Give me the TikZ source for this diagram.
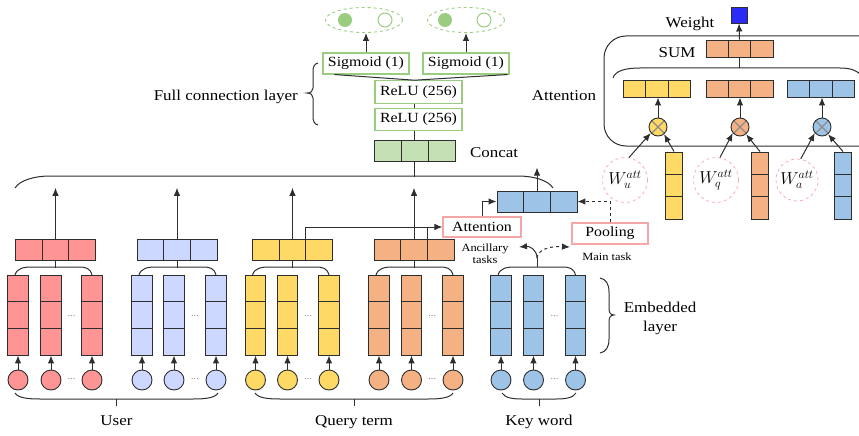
\documentclass[tikz,border=0pt]{standalone}
\usepackage{fontspec}
\setmainfont{Liberation Serif}[FakeStretch=1.13]
\usetikzlibrary{arrows.meta,calc,shapes.geometric}
\definecolor{cred}{HTML}{FF9494}
\definecolor{clav}{HTML}{CCD8FF}
\definecolor{cyel}{HTML}{FFD966}
\definecolor{cora}{HTML}{F4B183}
\definecolor{cblu}{HTML}{9DC3E6}
\definecolor{cgrn}{HTML}{C5E0B4}
\definecolor{cgbd}{HTML}{9ACD80}
\definecolor{cpnk}{HTML}{F4A7A7}
\definecolor{cdeep}{HTML}{2B2BF5}
\definecolor{cedge}{HTML}{2E2E2E}
\tikzset{
  ln/.style={line width=1pt, draw=cedge},
  arr/.style={ln, -{Latex[length=8pt,width=6.5pt]}},
  vcol/.style={draw=cedge, line width=0.9pt, fill=#1, minimum width=20.5pt, minimum height=80pt, inner sep=0pt,
    path picture={\foreach \t in {0.3333,0.6667}{\draw[cedge,line width=0.9pt] ($(path picture bounding box.north west)!\t!(path picture bounding box.south west)$) -- ($(path picture bounding box.north east)!\t!(path picture bounding box.south east)$);}}},
  hbar/.style={draw=cedge, line width=0.9pt, fill=#1, minimum width=80pt, minimum height=20.5pt, inner sep=0pt,
    path picture={\foreach \t in {0.3333,0.6667}{\draw[cedge,line width=0.9pt] ($(path picture bounding box.north west)!\t!(path picture bounding box.north east)$) -- ($(path picture bounding box.south west)!\t!(path picture bounding box.south east)$);}}},
  inp/.style={circle, draw=cedge, line width=0.9pt, fill=#1, minimum size=20pt, inner sep=0pt},
  gbox/.style={draw=cgbd, line width=1.1pt, fill=white, inner sep=0pt, font=\fontsize{14}{16}\selectfont},
  pbox/.style={draw=cpnk, line width=1.1pt, fill=white, inner sep=0pt, font=\fontsize{14}{16}\selectfont},
  lbl/.style={font=\fontsize{15}{17}\selectfont, inner sep=0pt, anchor=base},
  slbl/.style={font=\fontsize{11}{12}\selectfont, inner sep=0pt, anchor=base},
  wcirc/.style={circle, draw=cpnk, dashed, line width=0.7pt, minimum size=45pt, inner sep=0pt, font=\fontsize{17}{19}\selectfont},
  otim/.style={circle, draw=cedge, line width=0.9pt, fill=#1, minimum size=18pt, inner sep=0pt,
    path picture={\draw[black!45, line width=1.3pt] (path picture bounding box.north west) -- (path picture bounding box.south east) (path picture bounding box.north east) -- (path picture bounding box.south west);}},
  dotsn/.style={text=black!55, font=\fontsize{9}{9}\selectfont, inner sep=0pt},
}
\begin{document}
\begin{tikzpicture}[x=1pt,y=-1pt]
\useasboundingbox (0,0) rectangle (859,436);
\clip (0,0) rectangle (859,436);

% ---------- embedding columns and inputs ----------
\foreach \gp/\cc/\xa/\xb/\xc in {r/cred/18/51/92, l/clav/142/174/216, y/cyel/255.5/287.5/329, o/cora/379/411.5/453, k/cblu/501/533.5/575.5}{
  \node[vcol=\cc] (\gp c1) at (\xa,315) {};
  \node[vcol=\cc] (\gp c2) at (\xb,315) {};
  \node[vcol=\cc] (\gp c3) at (\xc,315) {};
  \node[inp=\cc] (\gp i1) at (\xa,380) {};
  \node[inp=\cc] (\gp i2) at (\xb,380) {};
  \node[inp=\cc] (\gp i3) at (\xc,380) {};
  \draw[arr] (\gp i1) -- (\gp c1);
  \draw[arr] (\gp i2) -- (\gp c2);
  \draw[arr] (\gp i3) -- (\gp c3);
  \node[dotsn] (\gp d1) at ({(\xb+\xc)/2},316) {...};
  \node[dotsn] (\gp d2) at ({(\xb+\xc)/2},379) {...};
  \draw[ln] ({\xa-3},275) .. controls ({\xa-1},268) and ({\xa+6},267) .. ({\xa+14},267) -- ({\xc-14},267) .. controls ({\xc-6},267) and ({\xc-2},268) .. (\xc,275);
}

% ---------- pooled bars ----------
\node[hbar=cred] (rbar) at (55.5,250) {};
\node[hbar=clav] (lbar) at (177,250) {};
\node[hbar=cyel] (ybar) at (292.5,250) {};
\node[hbar=cora] (obar) at (414,250) {};
\foreach \b in {rbar,lbar,ybar,obar}{
  \draw[ln] (\b.south) -- ++(0,7);
  \draw[arr] (\b.north) -- ++(0,-51.5);
}

% ---------- big brace and concat ----------
\draw[ln] (15,188) .. controls (20,180) and (35,176) .. (50,176) -- (518,176) .. controls (533,176) and (548,180) .. (553,188);
\node[hbar=cgrn, minimum width=81pt] (cat) at (414.5,151) {};
\draw[ln] (cat.south) -- ++(0,15);
\node[lbl] (catl) at (494,157) {Concat};

% ---------- full connection layers ----------
\node[gbox, minimum width=87pt, minimum height=22.5pt] (relu1) at (418.5,119.5) {ReLU (256)};
\node[gbox, minimum width=87pt, minimum height=22.5pt] (relu2) at (418.5,92) {ReLU (256)};
\draw[ln] (cat.north) -- (cat.north |- relu1.south);
\draw[ln] (cat.north |- relu1.north) -- (cat.north |- relu2.south);
\node[gbox, minimum width=86pt, minimum height=21pt] (sg1) at (366,63.5) {Sigmoid (1)};
\node[gbox, minimum width=86pt, minimum height=21pt] (sg2) at (466,63.5) {Sigmoid (1)};
\coordinate (vj) at (cat.north |- relu2.north);
\draw[ln] ($(sg1.south west)+(12,0)$) -- (vj) -- ($(sg2.south east)+(-2,0)$);

\node[ellipse, draw=cgbd, dashed, line width=0.9pt, minimum width=77pt, minimum height=25pt, inner sep=0pt] (el1) at (364,20) {};
\node[ellipse, draw=cgbd, dashed, line width=0.9pt, minimum width=77pt, minimum height=25pt, inner sep=0pt] (el2) at (466,20) {};
\node[circle, fill=cgbd, minimum size=14pt, inner sep=0pt] (el1a) at (345,20) {};
\node[circle, draw=cgbd, line width=1pt, minimum size=14pt, inner sep=0pt] (el1b) at (385,20) {};
\node[circle, fill=cgbd, minimum size=14pt, inner sep=0pt] (el2a) at (445,20) {};
\node[circle, draw=cgbd, line width=1pt, minimum size=14pt, inner sep=0pt] (el2b) at (484,20) {};
\draw[arr] (sg1.north) -- (sg1.north |- el1.south) ;
\draw[arr] (sg2.north) -- (sg2.north |- el2.south);

\draw[ln] (318,63) .. controls (314,64) and (313,67) .. (313,72) -- (313,88) .. controls (313,91) and (311,93) .. (307,93) .. controls (311,93) and (313,95) .. (313,98) -- (313,116) .. controls (313,121) and (314,124) .. (318,125);
\node[lbl, anchor=base east] (fcl) at (298,100) {Full connection layer};

% ---------- keyword attention / pooling ----------
\node[hbar=cblu, minimum width=80pt, minimum height=21pt] (kbar) at (537,201.5) {};
\draw[arr] (kbar.north) -- ++(0,-23);
\node[pbox, minimum width=78pt, minimum height=20pt] (att) at (482,227) {Attention};
\node[pbox, minimum width=76pt, minimum height=21pt] (pool) at (610,233.5) {Pooling};
\coordinate (ya) at ($(ybar.north west)!0.6667!(ybar.north east)$);
\coordinate (oa) at ($(obar.north west)!0.6667!(obar.north east)$);
\draw[arr] (ya) |- (att.west);
\draw[ln] (oa) -- (oa |- att.west);
\draw[arr] (att.north) |- (kbar.west);
\draw[arr, dashed] (pool.north) |- (kbar.east);

\coordinate (kj) at (537,258);
\draw[ln] (537,267) -- (kj);
\draw[arr] (kj) .. controls (537,250) and (530,246) .. (519,247);
\draw[arr, dashed] (kj) .. controls (538,250) and (548,246) .. (570,247);
\node[slbl] (anc) at (485,251) {Ancillary};
\node[slbl] (anc2) at (485,263) {tasks};
\node[slbl] (mt) at (607,260) {Main task};

% ---------- embedded layer brace ----------
\draw[ln] (600,278) .. controls (606,279) and (609,284) .. (609,292) -- (609,308) .. controls (609,312) and (610,315) .. (614,315) .. controls (610,315) and (609,318) .. (609,322) -- (609,339) .. controls (609,347) and (606,352) .. (600,353);
\node[lbl] (emb1) at (660,312) {Embedded};
\node[lbl] (emb2) at (660,331) {layer};

% ---------- bottom braces ----------
\draw[ln] (15,393) .. controls (18,398) and (28,399) .. (40,399) -- (193,399) .. controls (205,399) and (215,398) .. (218,393);
\draw[ln] (116.5,399) -- ++(0,7);
\node[lbl] (usr) at (116.5,425) {User};
\draw[ln] (255,393) .. controls (258,398) and (268,399) .. (280,399) -- (428,399) .. controls (440,399) and (450,398) .. (453,393);
\draw[ln] (354,399) -- ++(0,7);
\node[lbl] (qt) at (354,425) {Query term};
\draw[ln] (502,393) .. controls (505,398) and (513,399) .. (522,399) -- (556,399) .. controls (565,399) and (573,398) .. (576,393);
\draw[ln] (539,399) -- ++(0,7);
\node[lbl] (kw) at (539,425) {Key word};

% ---------- right panel ----------
\draw[ln, rounded corners=22pt] (604,36) rectangle (885,146);
\draw[ln] (613,78) .. controls (615,71) and (625,68) .. (640,68) -- (840,68) .. controls (852,68) and (858,71) .. (864,78);
\node[draw=cedge, line width=0.9pt, fill=cdeep, minimum size=16pt, inner sep=0pt] (wsq) at (739,15) {};
\node[lbl] (wt) at (690,28) {Weight};
\node[hbar=cora, minimum width=67pt, minimum height=17pt] (sum) at (739.5,48.5) {};
\node[lbl] (suml) at (677,57) {SUM};
\draw[arr] (sum.north) -- (wsq.south);
\draw[ln] (sum.south) -- ++(0,10.5);
\node[lbl] (attl) at (564,100) {Attention};

\node[hbar=cyel, minimum width=67pt, minimum height=17pt] (ab1) at (657,88.5) {};
\node[hbar=cora, minimum width=67pt, minimum height=17pt] (ab2) at (739.5,88.5) {};
\node[hbar=cblu, minimum width=67pt, minimum height=17pt] (ab3) at (821,88.5) {};
\node[otim=cyel] (ox1) at (658,127) {};
\node[otim=cora] (ox2) at (740,127) {};
\node[otim=cblu] (ox3) at (822,127) {};
\draw[arr] (ox1.north) -- (ox1.north |- ab1.south);
\draw[arr] (ox2.north) -- (ox2.north |- ab2.south);
\draw[arr] (ox3.north) -- (ox3.north |- ab3.south);

\node[wcirc] (wu) at (625,180) {$W_u^{att}$};
\node[wcirc] (wq) at (716,180) {$W_q^{att}$};
\node[wcirc, minimum size=42pt] (wa) at (797,180) {$W_a^{att}$};
\node[vcol=cyel, minimum width=16.5pt, minimum height=67pt] (v1) at (674,185.5) {};
\node[vcol=cora, minimum width=16.5pt, minimum height=67pt] (v2) at (760,185.5) {};
\node[vcol=cblu, minimum width=16.5pt, minimum height=67pt] (v3) at (843,185.5) {};
\draw[arr] (wu.80) -- (ox1.220);
\draw[arr] (v1.north) -- (ox1.310);
\draw[arr] (wq.80) -- (ox2.220);
\draw[arr] (v2.north) -- (ox2.310);
\draw[arr] (wa.80) -- (ox3.220);
\draw[arr] (v3.north) -- (ox3.310);
\end{tikzpicture}
\end{document}
